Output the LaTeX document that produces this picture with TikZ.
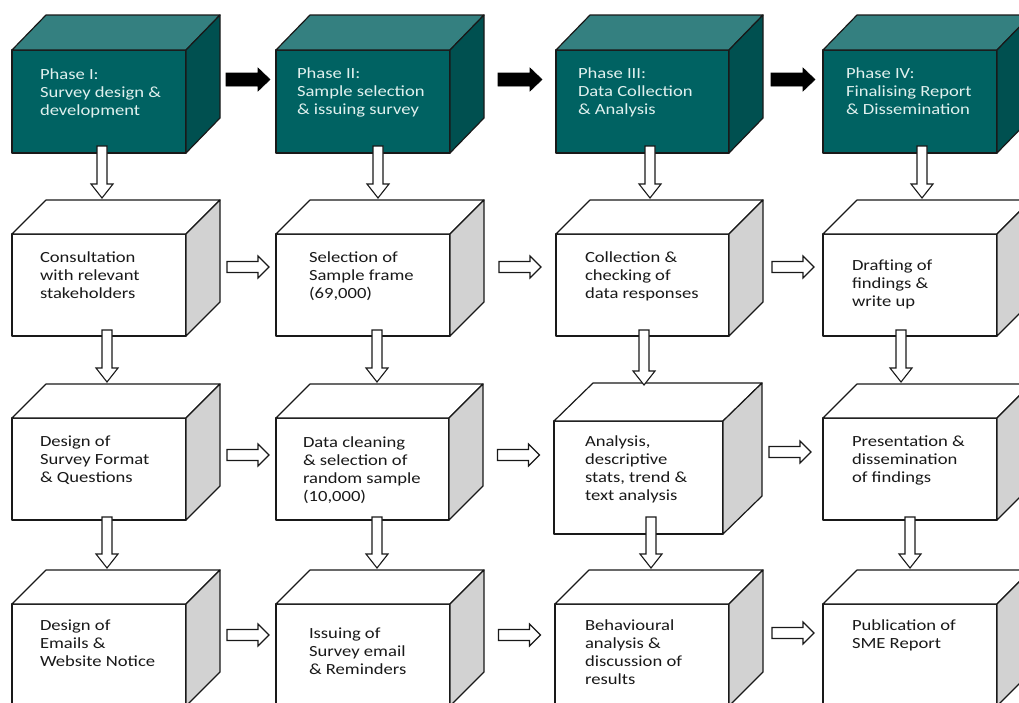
\documentclass[tikz,border=0pt]{standalone}
\usepackage{fontspec}
\setmainfont[FakeStretch=1.2]{Carlito}
\usetikzlibrary{calc}
\definecolor{tealfront}{RGB}{0,98,98}
\definecolor{tealtop}{RGB}{52,128,128}
\definecolor{tealside}{RGB}{0,80,80}
\definecolor{plainfront}{RGB}{255,255,255}
\definecolor{plaintop}{RGB}{255,255,255}
\definecolor{plainside}{RGB}{210,210,210}
\definecolor{tealtxt}{RGB}{224,240,238}
\definecolor{txtcol}{RGB}{25,25,25}
\definecolor{edgecol}{RGB}{25,25,25}
\tikzset{
  boxline/.style={draw=edgecol, line width=1.2pt, line join=round},
  frontface/.style={boxline, rectangle, inner sep=0pt, outer sep=0pt, anchor=north west},
  txt/.style={anchor=base west, align=left, inner sep=0pt, outer sep=0pt, font=\fontsize{15.5}{18.3}\selectfont, text=txtcol},
  phasetxt/.style={txt, text=tealtxt},
  hollowarrow/.style={draw=edgecol, fill=white, line width=1.1pt, line join=miter},
  solidarrow/.style={draw=black, fill=black, line width=0.6pt, line join=miter},
}
% cuboid: name, x, y, w, h, depth dx, depth dy, colour set
\newcommand\cuboid[8]{%
  \node[frontface, fill=#8front, minimum width=#4pt, minimum height=#5pt] (#1) at (#2,#3) {};
  \path[boxline, fill=#8top] (#1.north west) -- ++(#6,-#7) -- ++(#4,0) -- (#1.north east) -- cycle;
  \path[boxline, fill=#8side] (#1.north east) -- ++(#6,-#7) -- ++(0,#5) -- (#1.south east) -- cycle;
}
% block arrow to the right: style, from, to, y up from from.east, half length, shaft half, head half, head length
\newcommand\blockright[8]{%
  \draw[#1] let \p1=(#2.east), \p2=(#3.west), \n1={(\x1+\x2)/2+17}, \n2={\y1+#4} in
    ({(\n1-#5)*1pt},{(\n2+#6)*1pt}) -- ({(\n1+#5-#8)*1pt},{(\n2+#6)*1pt}) --
    ({(\n1+#5-#8)*1pt},{(\n2+#7)*1pt}) -- ({(\n1+#5)*1pt},{\n2*1pt}) --
    ({(\n1+#5-#8)*1pt},{(\n2-#7)*1pt}) -- ({(\n1+#5-#8)*1pt},{(\n2-#6)*1pt}) --
    ({(\n1-#5)*1pt},{(\n2-#6)*1pt}) -- cycle;
}
% hollow block arrow down: from, to, x offset from from.south west, lift of start into from
\newcommand\blockdown[4]{%
  \draw[hollowarrow] let \p1=(#1.south west), \p2=(#2.north), \n1={\x1+#3}, \n2={\y1+#4}, \n3={\y2+36} in
    ({(\n1-5)*1pt},{\n2*1pt}) -- ({(\n1+5)*1pt},{\n2*1pt}) --
    ({(\n1+5)*1pt},{(\n3+14)*1pt}) -- ({(\n1+11)*1pt},{(\n3+14)*1pt}) --
    ({\n1*1pt},{\n3*1pt}) -- ({(\n1-11)*1pt},{(\n3+14)*1pt}) --
    ({(\n1-5)*1pt},{(\n3+14)*1pt}) -- cycle;
}
\begin{document}
\begin{tikzpicture}[x=1pt,y=-1pt]
\useasboundingbox (0,0) rectangle (1019,702);
\fill[white] (0,0) rectangle (1019,702);
\clip (0,0) rectangle (1019,702);

% row 1 (phases)
\cuboid{p1}{12}{50}{174}{103}{34}{35}{teal}
\cuboid{p2}{276}{50}{174}{103}{34}{35}{teal}
\cuboid{p3}{556}{50}{173}{103}{34}{35}{teal}
\cuboid{p4}{823}{50}{174}{103}{34}{35}{teal}
% row 2
\cuboid{b21}{12}{234}{174}{102}{34}{34}{plain}
\cuboid{b22}{276}{234}{174}{102}{34}{34}{plain}
\cuboid{b23}{556}{234}{173}{102}{34}{34}{plain}
\cuboid{b24}{823}{234}{174}{102}{34}{34}{plain}
% row 3
\cuboid{b31}{12}{418}{174}{102}{34}{34}{plain}
\cuboid{b32}{276}{418}{173}{102}{34}{34}{plain}
\cuboid{b33}{554}{421}{169}{113}{39}{38}{plain}
\cuboid{b34}{823}{418}{174}{102}{34}{34}{plain}
% row 4
\cuboid{b41}{12}{604}{174}{102}{34}{34}{plain}
\cuboid{b42}{276}{604}{174}{102}{34}{34}{plain}
\cuboid{b43}{555}{604}{174}{102}{34}{34}{plain}
\cuboid{b44}{823}{604}{174}{102}{34}{34}{plain}

% labels (anchor = baseline of the last line)
\node[phasetxt] (t1) at ($(p1.north west)+(28,65.6)$) {Phase I:\\Survey design \&\\development};
\node[phasetxt] (t2) at ($(p2.north west)+(21,64.6)$) {Phase II:\\Sample selection\\\& issuing survey};
\node[phasetxt] (t3) at ($(p3.north west)+(22,64.6)$) {Phase III:\\Data Collection\\\& Analysis};
\node[phasetxt] (t4) at ($(p4.north west)+(23,64.6)$) {Phase IV:\\Finalising Report\\\& Dissemination};

\node[txt] (t21) at ($(b21.north west)+(28,64.6)$) {Consultation\\with relevant\\stakeholders};
\node[txt] (t22) at ($(b22.north west)+(33,64.6)$) {Selection of\\Sample frame\\(69,000)};
\node[txt] (t23) at ($(b23.north west)+(29,64.6)$) {Collection \&\\checking of\\data responses};
\node[txt] (t24) at ($(b24.north west)+(29,72.6)$) {Drafting of\\findings \&\\write up};

\node[txt] (t31) at ($(b31.north west)+(28,64.6)$) {Design of\\Survey Format\\\& Questions};
\node[txt] (t32) at ($(b32.north west)+(27,83.9)$) {Data cleaning\\\& selection of\\random sample\\(10,000)};
\node[txt] (t33) at ($(b33.north west)+(31,79.9)$) {Analysis,\\descriptive\\stats, trend \&\\text analysis};
\node[txt] (t34) at ($(b34.north west)+(29,64.6)$) {Presentation \&\\dissemination\\of findings};

\node[txt] (t41) at ($(b41.north west)+(28,62.6)$) {Design of\\Emails \&\\Website Notice};
\node[txt] (t42) at ($(b42.north west)+(33,70.6)$) {Issuing of\\Survey email\\\& Reminders};
\node[txt] (t43) at ($(b43.north west)+(30,80.9)$) {Behavioural\\analysis \&\\discussion of\\results};
\node[txt] (t44) at ($(b44.north west)+(29,44.3)$) {Publication of\\SME Report};

% black arrows between phases
\blockright{solidarrow}{p1}{p2}{22}{22}{6.5}{11.5}{12}
\blockright{solidarrow}{p2}{p3}{22}{22}{6.5}{11.5}{12}
\blockright{solidarrow}{p3}{p4}{22}{22}{6.5}{11.5}{12}

% hollow arrows across
\blockright{hollowarrow}{b21}{b22}{18}{21}{5.5}{11}{11}
\blockright{hollowarrow}{b22}{b23}{18}{21}{5.5}{11}{11}
\blockright{hollowarrow}{b23}{b24}{18}{21}{5.5}{11}{11}
\blockright{hollowarrow}{b31}{b32}{14}{21}{5.5}{11}{11}
\blockright{hollowarrow}{b32}{b33}{14}{21}{5.5}{11}{11}
\blockright{hollowarrow}{b33}{b34}{25.5}{21}{5.5}{11}{11}
\blockright{hollowarrow}{b41}{b42}{20}{21}{5.5}{11}{11}
\blockright{hollowarrow}{b42}{b43}{20}{21}{5.5}{11}{11}
\blockright{hollowarrow}{b43}{b44}{22}{21}{5.5}{11}{11}

% hollow arrows down
\blockdown{p1}{b21}{90}{7}
\blockdown{p2}{b22}{102}{7}
\blockdown{p3}{b23}{94}{7}
\blockdown{p4}{b24}{99}{7}
\blockdown{b21}{b31}{95}{6}
\blockdown{b22}{b32}{101}{6}
\blockdown{b23}{b33}{88}{6}
\blockdown{b24}{b34}{78}{6}
\blockdown{b31}{b41}{95}{3}
\blockdown{b32}{b42}{101}{3}
\blockdown{b33}{b43}{97}{17}
\blockdown{b34}{b44}{87}{3}
\end{tikzpicture}
\end{document}
